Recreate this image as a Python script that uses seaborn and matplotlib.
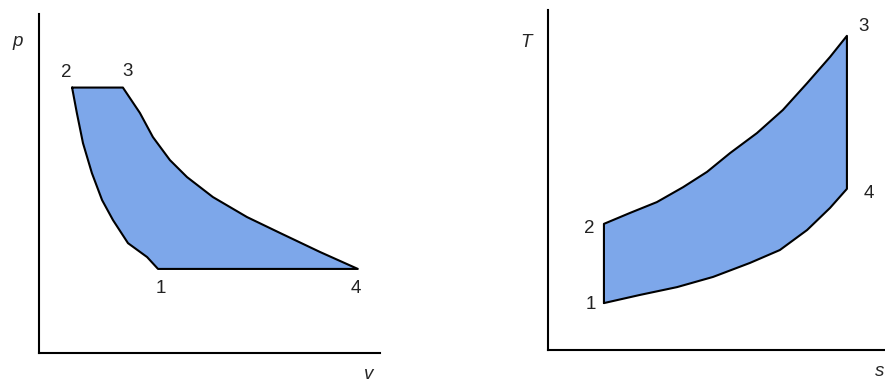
import numpy as np
import pandas as pd
import matplotlib
matplotlib.use("Agg")
import matplotlib.pyplot as plt
import seaborn as sns

# p-v diagram (arbitrary units)
pv_top_v = [0.97, 2.46]                      # 2 -> 3, constant pressure
pv_top_p = [7.83, 7.83]
pv_exp_v = [2.46, 2.96, 3.34, 3.84, 4.34, 5.10, 6.10, 7.07, 8.24, 9.35]   # 3 -> 4
pv_exp_p = [7.83, 7.08, 6.37, 5.69, 5.19, 4.60, 4.01, 3.54, 2.98, 2.48]
pv_bot_v = [9.35, 3.49]                      # 4 -> 1, constant pressure
pv_bot_p = [2.48, 2.48]
pv_comp_v = [3.49, 3.17, 2.61, 2.17, 1.85, 1.55, 1.29, 1.11, 0.97]        # 1 -> 2
pv_comp_p = [2.48, 2.83, 3.24, 3.92, 4.51, 5.31, 6.19, 7.08, 7.83]
pv_pts = {"1": (3.49, 2.48), "2": (0.97, 7.83), "3": (2.46, 7.83), "4": (9.35, 2.48)}

# T-s diagram
ts_left_s = [1.66, 1.66]                     # 1 -> 2, isentropic
ts_left_T = [1.38, 3.71]
ts_up_s = [1.66, 2.43, 3.23, 4.01, 4.72, 5.40, 6.20, 6.97, 7.69, 8.37, 8.87]  # 2 -> 3
ts_up_T = [3.71, 4.03, 4.35, 4.79, 5.24, 5.79, 6.38, 7.06, 7.85, 8.62, 9.24]
ts_right_s = [8.87, 8.87]                    # 3 -> 4, isentropic
ts_right_T = [9.24, 4.74]
ts_low_s = [8.87, 8.37, 7.69, 6.88, 5.99, 4.90, 3.83, 2.73, 1.66]          # 4 -> 1
ts_low_T = [4.74, 4.18, 3.53, 2.94, 2.56, 2.15, 1.85, 1.62, 1.38]
ts_pts = {"1": (1.66, 1.38), "2": (1.66, 3.71), "3": (8.87, 9.24), "4": (8.87, 4.74)}

fill_col = "#7DA7EA"

sns.set_theme(style="white")
plt.rcParams["font.family"] = ["Liberation Sans", "DejaVu Sans"]

fig = plt.figure(figsize=(8.85, 3.83), dpi=100)
ax1 = fig.add_axes([39 / 885, 30 / 383, 341 / 885, 339 / 383])
ax2 = fig.add_axes([548 / 885, 33 / 383, 337 / 885, 340 / 383])


def draw_cycle(ax, xs, ys, xcol, ycol):
    df = pd.DataFrame({xcol: np.concatenate(xs), ycol: np.concatenate(ys)})
    ax.fill(df[xcol], df[ycol], color=fill_col, lw=0)
    sns.lineplot(data=df, x=xcol, y=ycol, sort=False, estimator=None,
                 color="black", lw=1.5, ax=ax)


draw_cycle(ax1, [pv_top_v, pv_exp_v, pv_bot_v, pv_comp_v],
           [pv_top_p, pv_exp_p, pv_bot_p, pv_comp_p], "v", "p")
draw_cycle(ax2, [ts_left_s, ts_up_s, ts_right_s, ts_low_s],
           [ts_left_T, ts_up_T, ts_right_T, ts_low_T], "s", "T")

# point labels
pv_off = {"1": (3, -20), "2": (-6, 15), "3": (5, 16), "4": (-2, -20)}
ts_off = {"1": (-13, -1), "2": (-15, -5), "3": (17, 9), "4": (22, -5)}
for ax, pts, off in [(ax1, pv_pts, pv_off), (ax2, ts_pts, ts_off)]:
    for k, xy in pts.items():
        ax.annotate(k, xy, xytext=off[k], textcoords="offset pixels",
                    ha="center", va="center", fontsize=13.5, color="#222222")

for ax in (ax1, ax2):
    ax.set_xlim(0, 10)
    ax.set_ylim(0, 10)
    ax.set_xticks([])
    ax.set_yticks([])
    ax.set_xlabel("")
    ax.set_ylabel("")
    ax.patch.set_alpha(0)
    for side in ("top", "right"):
        ax.spines[side].set_visible(False)
    for side in ("left", "bottom"):
        ax.spines[side].set_color("black")
        ax.spines[side].set_linewidth(1.5)

ax1.text(-0.062, 0.92, "p", transform=ax1.transAxes, style="italic",
         fontsize=13.5, ha="center", va="center", clip_on=False)
ax1.text(0.968, -0.062, "v", transform=ax1.transAxes, style="italic",
         fontsize=13.5, ha="center", va="center", clip_on=False)
ax2.text(-0.065, 0.903, "T", transform=ax2.transAxes, style="italic",
         fontsize=13.5, ha="center", va="center", clip_on=False)
ax2.text(0.985, -0.062, "s", transform=ax2.transAxes, style="italic",
         fontsize=13.5, ha="center", va="center", clip_on=False)

fig.savefig("out.png", dpi=100)
